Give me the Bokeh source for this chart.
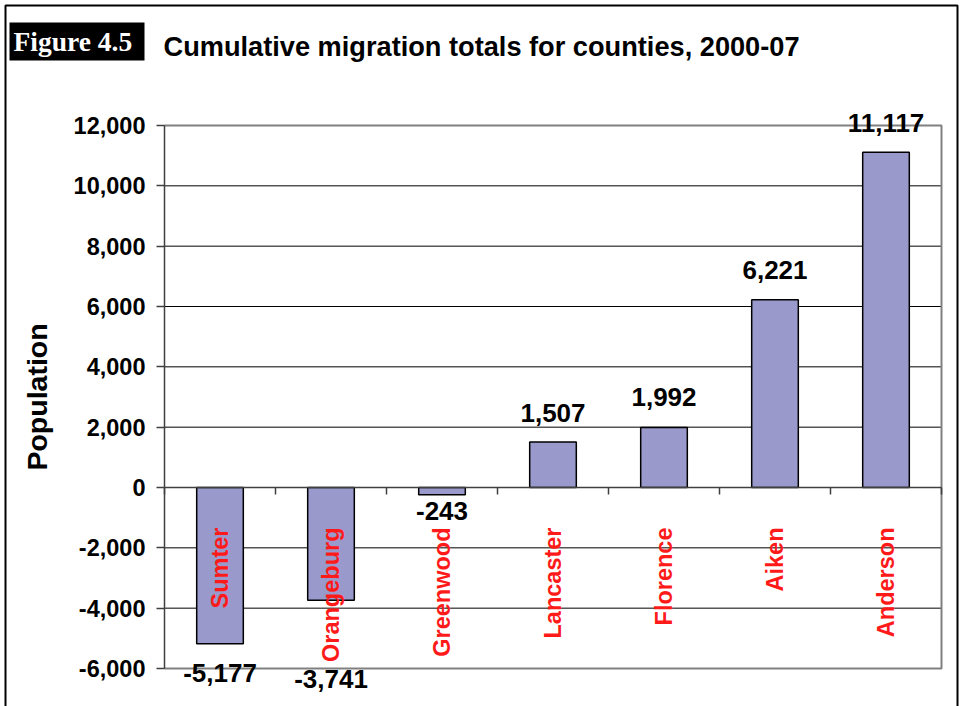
import math
from bokeh.plotting import figure
from bokeh.models import (Range1d, FixedTicker, NumeralTickFormatter, ColumnDataSource, LinearAxis)
from bokeh.core.properties import value
from bokeh.embed import file_html
from bokeh.resources import INLINE

# ---- data ----
counties = ["Sumter", "Orangeburg", "Greenwood", "Lancaster", "Florence", "Aiken", "Anderson"]
migration = [-5177, -3741, -243, 1507, 1992, 6221, 11117]
y_ticks = [-6000, -4000, -2000, 0, 2000, 4000, 6000, 8000, 10000, 12000]
title_text = "Cumulative migration totals for counties, 2000-07"
figure_tag = "Figure 4.5"
y_title = "Population"

# ---- styling ----
value_label_offset = [29, 79, 16, -29, -30, -30, -29]   # px, as placed in the original
W, H = 964, 706
PX_L, PX_R, PX_T, PX_B = 164, 941, 125, 668             # chart area inside the canvas
SANS = "Liberation Sans"
SERIF = "Liberation Serif"

n = len(counties)
ymin, ymax = y_ticks[0], y_ticks[-1]
xs = (PX_R - PX_L) / n
ys = (PX_B - PX_T) / (ymax - ymin)
x_range = Range1d(-PX_L / xs, n + (W - PX_R) / xs)
y_range = Range1d(ymin - (H - PX_B) / ys, ymax + PX_T / ys)

xpos = [i + 0.5 for i in range(n)]
src = ColumnDataSource(dict(
    x=xpos, top=migration,
    lab=[f"{v:,}" for v in migration],
    dy=value_label_offset,
))

p = figure(width=W, height=H, output_backend="svg", toolbar_location=None,
           x_range=x_range, y_range=y_range,
           min_border=0, min_border_left=0, min_border_right=0,
           min_border_top=0, min_border_bottom=0,
           x_axis_location=None, y_axis_location=None,
           background_fill_color="white", border_fill_color="white")
p.outline_line_color = None
p.grid.visible = False
p.extra_x_ranges = {"px": Range1d(0, W)}
p.extra_y_ranges = {"px": Range1d(H, 0)}

# horizontal grid lines (from the tick values)
p.segment(x0=0, x1=n, y0=y_ticks, y1=y_ticks, line_color="black", line_width=1)
# plot-area frame (grey) on top, right and bottom
p.line(x=[0, n, n, 0], y=[ymax, ymax, ymin, ymin], line_color="#808080", line_width=2)

# bars
p.vbar(x="x", top="top", bottom=0, width=0.42, source=src,
       fill_color="#9999CC", line_color="black", line_width=1.5)

# value labels
p.text(x="x", y="top", text="lab", source=src, y_offset="dy",
       text_align="center", text_baseline="alphabetic",
       text_font=value(SANS), text_font_style="bold", text_font_size="26px",
       text_color="black")

# y axis
ya = LinearAxis(ticker=FixedTicker(ticks=y_ticks), formatter=NumeralTickFormatter(format="0,0"),
                fixed_location=0, bounds=(ymin, ymax))
ya.major_label_text_font = SANS
ya.major_label_text_font_style = "bold"
ya.major_label_text_font_size = "23.5px"
ya.major_label_text_color = "black"
ya.major_label_standoff = 11
ya.major_tick_out = 8
ya.major_tick_in = 0
ya.minor_tick_out = 0
ya.minor_tick_in = 0
ya.axis_line_color = "#404040"
ya.axis_line_width = 1.5
ya.major_tick_line_color = "#404040"
ya.major_tick_line_width = 1.5
ya.axis_label = y_title
ya.axis_label_text_font = SANS
ya.axis_label_text_font_style = "bold"
ya.axis_label_text_font_size = "28.5px"
ya.axis_label_text_color = "black"
ya.axis_label_standoff = 18
p.add_layout(ya, "left")

# x axis at zero: category names at the centres, ticks between categories
xa = LinearAxis(ticker=FixedTicker(ticks=xpos, minor_ticks=list(range(n + 1))),
                fixed_location=0, bounds=(0, n),
                major_label_overrides={x: c for x, c in zip(xpos, counties)})
xa.major_label_orientation = math.pi / 2
xa.major_label_text_font = SANS
xa.major_label_text_font_style = "bold"
xa.major_label_text_font_size = "23.5px"
xa.major_label_text_color = "#FF1A1A"
xa.major_label_standoff = 33
xa.major_tick_out = 0
xa.major_tick_in = 0
xa.minor_tick_out = 7
xa.minor_tick_in = 0
xa.axis_line_color = "#404040"
xa.axis_line_width = 1.5
xa.minor_tick_line_color = "#404040"
xa.minor_tick_line_width = 1.5
p.add_layout(xa, "below")

# outer border, figure tag and title (pixel coordinates)
p.line(x=[5, 5, 957, 957], y=[H + 10, 5, 5, H + 10], x_range_name="px", y_range_name="px",
       line_color="black", line_width=2)
p.quad(left=9, right=144, top=22, bottom=60, x_range_name="px", y_range_name="px",
       fill_color="black", line_color=None)
p.text(x=[13], y=[41], text=[figure_tag], x_range_name="px", y_range_name="px",
       text_font=value(SERIF), text_font_style="bold", text_font_size="27.5px",
       text_color="white", text_baseline="middle", text_align="left")
p.text(x=[163], y=[46], text=[title_text], x_range_name="px", y_range_name="px",
       text_font=value(SANS), text_font_style="bold", text_font_size="27.2px",
       text_color="black", text_baseline="middle", text_align="left")

open("out.html", "w").write(file_html(p, INLINE))
